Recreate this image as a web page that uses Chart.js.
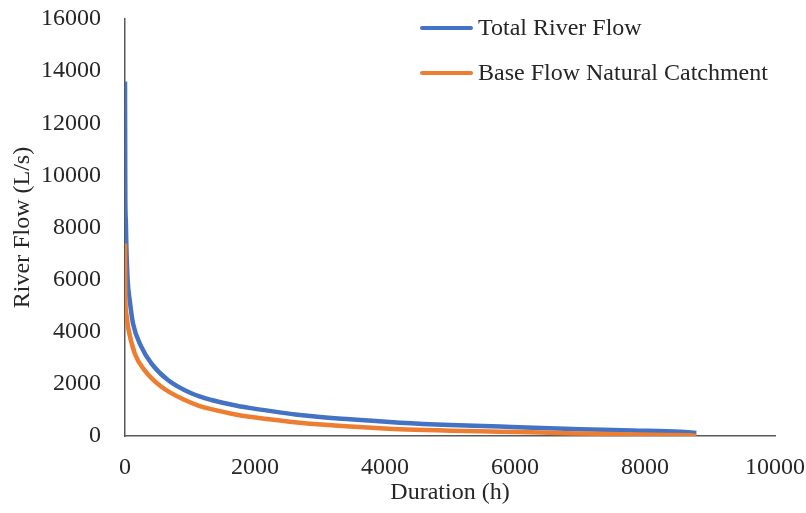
<!DOCTYPE html>
<html>
<head>
<meta charset="utf-8">
<script src="https://cdn.jsdelivr.net/npm/chart.js@4.4.1/dist/chart.umd.min.js"></script>
<style>
  html, body { margin: 0; padding: 0; background: #fff; }
  #wrap { width: 806px; height: 513px; }
</style>
</head>
<body>
<div id="wrap"><canvas id="flow-chart" width="806" height="513"></canvas></div>
<script>
// Flow duration curves (hours exceeded vs flow)
const totalHours = [0, 3, 5, 12, 20, 40, 72, 123, 250, 405, 660, 1020, 1330, 1740, 1920, 2690, 3460, 4230, 5000, 5770, 6400, 7000, 7800, 8540, 8790];
const totalFlow  = [13600, 10500, 9050, 8300, 7390, 6000, 5220, 4320, 3430, 2790, 2150, 1640, 1380, 1150, 1075, 805, 640, 510, 420, 360, 310, 257, 210, 165, 120];

const baseHours = [0, 3, 5, 20, 46, 150, 300, 560, 920, 1150, 1280, 1740, 1920, 2690, 3460, 4230, 5000, 5770, 6400, 7000, 7800, 8330, 8700, 8790];
const baseFlow  = [7390, 6200, 5350, 4700, 4200, 3170, 2530, 1890, 1380, 1150, 1060, 805, 740, 510, 360, 255, 205, 165, 130, 100, 60, 38, 25, 0];

const seriesLabels = ['Total River Flow', 'Base Flow Natural Catchment'];
const seriesColors = ['#4472C4', '#ED7D31'];

const xTicks = [0, 2000, 4000, 6000, 8000, 10000];
const yTicks = [0, 2000, 4000, 6000, 8000, 10000, 12000, 14000, 16000];

const fontFamily = '"Liberation Serif", "DejaVu Serif", serif';
const textColor = '#262626';

function toPoints(xs, ys) {
    return xs.map((x, i) => ({ x: x, y: ys[i] }));
}

// the plot box is fixed by layout.padding, not by label overflow
function clearScalePadding(scale) {
    scale.paddingTop = 0;
    scale.paddingBottom = 0;
    scale.paddingLeft = 0;
    scale.paddingRight = 0;
}

// Legend drawn inside the plot, top right
const insideLegend = {
    id: 'insideLegend',
    afterDraw(chart) {
        const ctx = chart.ctx;
        ctx.save();
        ctx.font = '24px ' + fontFamily;
        ctx.textBaseline = 'middle';
        ctx.textAlign = 'left';
        chart.data.datasets.forEach((ds, i) => {
            const y = 28 + i * 45;
            ctx.strokeStyle = ds.borderColor;
            ctx.lineWidth = 4;
            ctx.lineCap = 'round';
            ctx.beginPath();
            ctx.moveTo(422, y);
            ctx.lineTo(471, y);
            ctx.stroke();
            ctx.fillStyle = textColor;
            ctx.fillText(ds.label, 478, y + 1);
        });
        ctx.restore();
    }
};

const ctx = document.getElementById('flow-chart').getContext('2d');
const flowChart = new Chart(ctx, {
    type: 'line',
    data: {
        datasets: [{
            label: seriesLabels[0],
            data: toPoints(totalHours, totalFlow),
            borderColor: seriesColors[0],
            borderWidth: 4.5,
            pointRadius: 0,
            cubicInterpolationMode: 'monotone',
            order: 1
        }, {
            label: seriesLabels[1],
            data: toPoints(baseHours, baseFlow),
            borderColor: seriesColors[1],
            borderWidth: 4.5,
            pointRadius: 0,
            cubicInterpolationMode: 'monotone',
            order: 0
        }]
    },
    options: {
        responsive: false,
        animation: false,
        layout: {
            padding: { left: 0, right: 31, top: 19, bottom: 0 }
        },
        plugins: {
            legend: { display: false },
            tooltip: { enabled: false }
        },
        scales: {
            x: {
                type: 'linear',
                min: 0,
                max: 10000,
                afterBuildTicks(scale) {
                    scale.ticks = xTicks.map(v => ({ value: v }));
                },
                afterFit(scale) {
                    scale.height = 77;
                    clearScalePadding(scale);
                },
                grid: { display: false, drawTicks: false },
                border: { display: true, color: '#595959', width: 1.5 },
                ticks: {
                    padding: 17,
                    color: textColor,
                    font: { family: fontFamily, size: 24 },
                    callback: v => String(v)
                },
                title: {
                    display: true,
                    text: 'Duration (h)',
                    color: textColor,
                    font: { family: fontFamily, size: 24 },
                    padding: { top: 0, bottom: 6 }
                }
            },
            y: {
                type: 'linear',
                min: 0,
                max: 16000,
                afterBuildTicks(scale) {
                    scale.ticks = yTicks.map(v => ({ value: v }));
                },
                afterFit(scale) {
                    scale.width = 125;
                    clearScalePadding(scale);
                },
                grid: { display: false, drawTicks: false },
                border: { display: true, color: '#595959', width: 1.5 },
                ticks: {
                    padding: 24,
                    color: textColor,
                    font: { family: fontFamily, size: 24 },
                    callback: v => String(v)
                },
                title: {
                    display: true,
                    text: 'River Flow (L/s)',
                    color: textColor,
                    font: { family: fontFamily, size: 24 },
                    padding: { top: 8, bottom: 0 }
                }
            }
        }
    },
    plugins: [insideLegend]
});
</script>
</body>
</html>
